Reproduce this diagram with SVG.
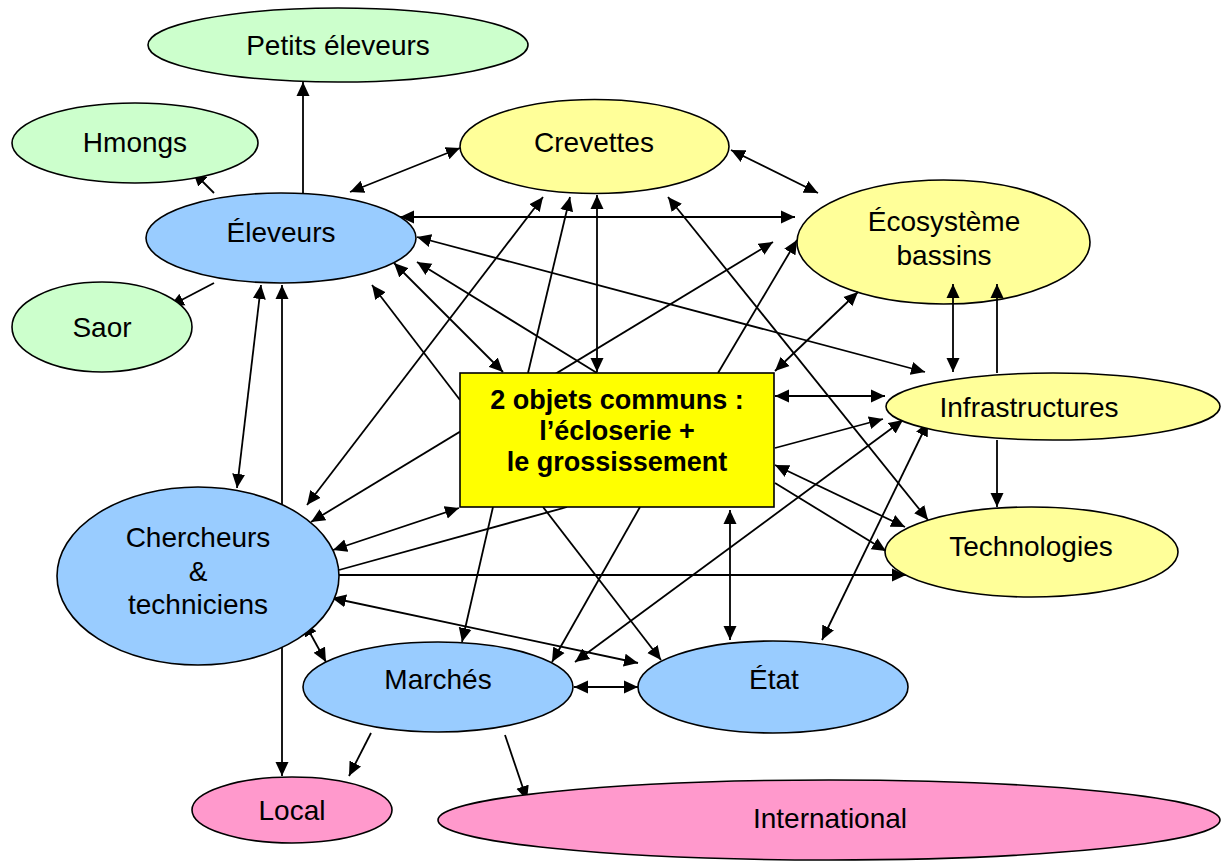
<svg xmlns="http://www.w3.org/2000/svg" width="1222" height="863" viewBox="0 0 1222 863">
<defs>
<marker id="a" viewBox="0 0 14 14" refX="14" refY="7" markerWidth="14" markerHeight="14" markerUnits="userSpaceOnUse" orient="auto-start-reverse"><path d="M0,0.5 L14,7 L0,13.5 z" fill="#000"/></marker>
<style>
.c{stroke:#000;stroke-width:1.8;fill:none}
.e{marker-end:url(#a)}
.b{marker-start:url(#a);marker-end:url(#a)}
.n{stroke:#000;stroke-width:1.6}
.g{fill:#CCFFCC}.bl{fill:#99CCFF}.y{fill:#FFFF99}.p{fill:#FF99CC}
text{font-family:"Liberation Sans",Arial,sans-serif;font-size:28px;fill:#000;text-anchor:middle}
.t{font-weight:bold;font-size:27px}
</style>
</defs>
<rect width="1222" height="863" fill="#fff"/>
<g id="ecosysteme"><ellipse class="n y" cx="943.5" cy="242" rx="146.5" ry="62"/><text x="944" y="231">Écosystème</text><text x="944" y="265">bassins</text></g>
<g id="connectors">
<path class="c e" d="M303,193 L303,82"/>
<path class="c e" d="M214,193 L193,172"/>
<path class="c e" d="M214,283 L170,306"/>
<path class="c b" d="M460,148 L350,192"/>
<path class="c b" d="M400,217 L795,217"/>
<path class="c b" d="M731,150 L818,193"/>
<path class="c b" d="M417,237 L925,372"/>
<path class="c b" d="M394,263 L503,372"/>
<path class="c e" d="M597,373 L417,262"/>
<path class="c e" d="M460,400 L372,285"/>
<path class="c b" d="M543,197 L307,505"/>
<path class="c e" d="M528,373 L570,197"/>
<path class="c b" d="M597,195 L597,372"/>
<path class="c b" d="M668,197 L928,520"/>
<path class="c b" d="M773,242 L311,522"/>
<path class="c e" d="M718,373 L797,240"/>
<path class="c b" d="M858,292 L775,371"/>
<path class="c b" d="M953,284 L953,372"/>
<path class="c e" d="M997,373 L997,284"/>
<path class="c e" d="M997,440 L997,507"/>
<path class="c b" d="M775,396 L885,396"/>
<path class="c e" d="M775,448 L883,419"/>
<path class="c b" d="M903,420 L575,662"/>
<path class="c b" d="M928,422 L822,640"/>
<path class="c b" d="M775,465 L905,527"/>
<path class="c e" d="M775,483 L886,551"/>
<path class="c e" d="M339,575 L906,575"/>
<path class="c b" d="M730,510 L730,640"/>
<path class="c b" d="M574,687 L638,687"/>
<path class="c e" d="M543,507 L661,660"/>
<path class="c e" d="M493,507 L462,642"/>
<path class="c e" d="M640,507 L552,662"/>
<path class="c b" d="M332,598 L638,663"/>
<path class="c b" d="M304,622 L326,662"/>
<path class="c b" d="M333,550 L459,508"/>
<path class="c" d="M567,507 L339,570"/>
<path class="c b" d="M237,488 L261,285"/>
<path class="c b" d="M282,285 L282,776"/>
<path class="c e" d="M371,733 L349,776"/>
<path class="c e" d="M505,735 L527,800"/>
</g>
<g id="petits-eleveurs"><ellipse class="n g" cx="338" cy="45" rx="190" ry="37"/><text x="338" y="55">Petits éleveurs</text></g>
<g id="hmongs"><ellipse class="n g" cx="135" cy="143" rx="123" ry="40"/><text x="135" y="152">Hmongs</text></g>
<g id="saor"><ellipse class="n g" cx="102" cy="327" rx="90" ry="45"/><text x="102" y="337">Saor</text></g>
<g id="eleveurs"><ellipse class="n bl" cx="281" cy="238" rx="135" ry="45"/><text x="281" y="242">Éleveurs</text></g>
<g id="crevettes"><ellipse class="n y" cx="594.5" cy="146.5" rx="134.5" ry="47"/><text x="594" y="152">Crevettes</text></g>
<g id="infrastructures"><ellipse class="n y" cx="1053" cy="406.5" rx="167" ry="33.5"/><text x="1029" y="417">Infrastructures</text></g>
<g id="technologies"><ellipse class="n y" cx="1031.5" cy="552" rx="146.5" ry="45"/><text x="1031" y="556">Technologies</text></g>
<g id="centre"><rect x="460" y="373" width="314" height="134" fill="#FFFF00" stroke="#000" stroke-width="1.6"/><text class="t" x="617" y="409">2 objets communs :</text><text class="t" x="617" y="440">l’écloserie +</text><text class="t" x="617" y="471">le grossissement</text></g>
<g id="chercheurs"><ellipse class="n bl" cx="198" cy="576" rx="141" ry="89"/><text x="198" y="547">Chercheurs</text><text x="198" y="581">&amp;</text><text x="198" y="614">techniciens</text></g>
<g id="marches"><ellipse class="n bl" cx="438" cy="687" rx="135" ry="45"/><text x="438" y="689">Marchés</text></g>
<g id="etat"><ellipse class="n bl" cx="773" cy="687" rx="135" ry="46"/><text x="774" y="689">État</text></g>
<g id="local"><ellipse class="n p" cx="292" cy="810" rx="100" ry="33"/><text x="292" y="820">Local</text></g>
<g id="international"><ellipse class="n p" cx="829" cy="820" rx="391" ry="40"/><text x="830" y="828">International</text></g>
</svg>
